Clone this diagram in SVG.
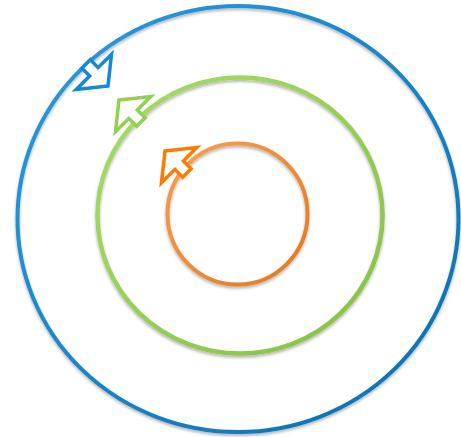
<svg xmlns="http://www.w3.org/2000/svg" width="461" height="437" viewBox="0 0 461 437">
  <defs>
    <filter id="sh" x="-10%" y="-10%" width="120%" height="120%">
      <feDropShadow dx="0" dy="2" stdDeviation="1.5" flood-color="#000" flood-opacity="0.3"/>
    </filter>
    <linearGradient id="gBlue" x1="0" y1="0" x2="1" y2="1">
      <stop offset="0" stop-color="#2a9be0"/>
      <stop offset="1" stop-color="#0a6fb0"/>
    </linearGradient>
    <linearGradient id="gGreen" x1="0" y1="0" x2="1" y2="1">
      <stop offset="0" stop-color="#a9dc6a"/>
      <stop offset="1" stop-color="#86c046"/>
    </linearGradient>
    <linearGradient id="gOrange" x1="0" y1="0" x2="1" y2="1">
      <stop offset="0" stop-color="#f7a050"/>
      <stop offset="1" stop-color="#e07a20"/>
    </linearGradient>
    <polygon id="arrow" points="0,0 25,20 6,20 6,31 -6,31 -6,20 -25,20"/>
  </defs>
  <style>
    .ring { fill: none; filter: url(#sh); }
    .arr { fill: #ffffff; stroke-width: 3.5; stroke-linejoin: miter; }
  </style>
  <rect width="461" height="437" fill="#ffffff"/>
  <g id="ring-outer">
    <ellipse class="ring" cx="238" cy="219" rx="220.5" ry="213" stroke="url(#gBlue)" stroke-width="4"/>
  </g>
  <g id="ring-middle">
    <ellipse class="ring" cx="240" cy="215.5" rx="142.5" ry="138" stroke="url(#gGreen)" stroke-width="4.5"/>
  </g>
  <g id="ring-inner">
    <ellipse class="ring" cx="237.5" cy="214" rx="70" ry="70.5" stroke="url(#gOrange)" stroke-width="4"/>
  </g>
  <g id="connectors">
    <use href="#arrow" class="arr" stroke="#1589d4" transform="translate(108,86) rotate(135)"/>
    <use href="#arrow" class="arr" stroke="#92d050" transform="translate(119,100) rotate(-45)"/>
    <use href="#arrow" class="arr" stroke="#ff7a00" transform="translate(165,151) rotate(-45)"/>
  </g>
</svg>
